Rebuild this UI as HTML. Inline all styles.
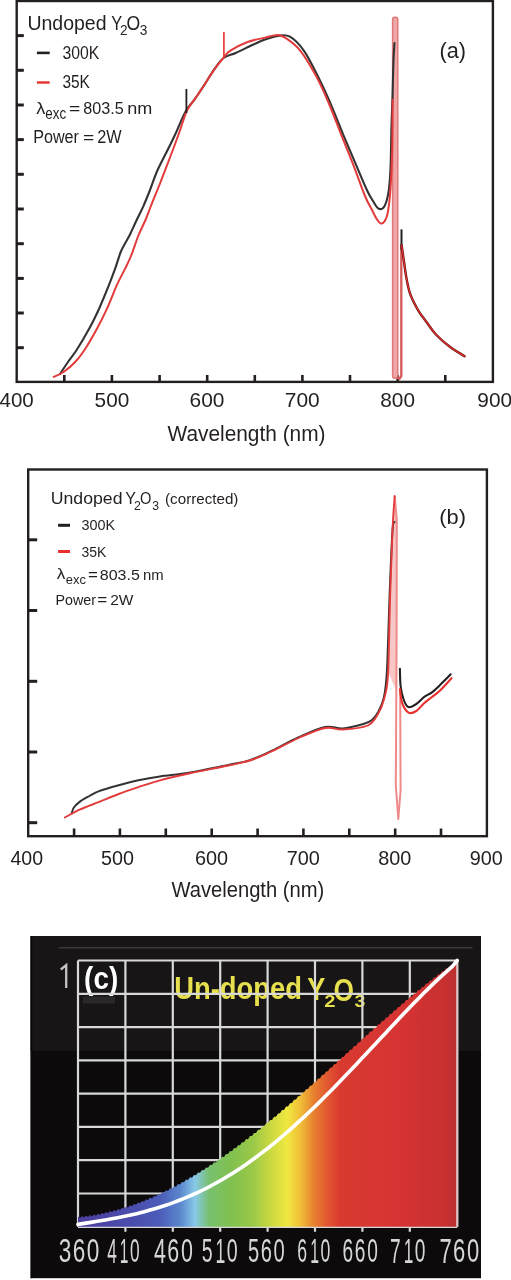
<!DOCTYPE html>
<html><head><meta charset="utf-8"><style>
html,body{margin:0;padding:0;background:#fff;width:511px;height:1280px;overflow:hidden;}
svg{display:block;font-family:"Liberation Sans", sans-serif;will-change:transform;}
</style></head><body>
<svg width="511" height="1280" viewBox="0 0 511 1280" font-family="Liberation Sans, sans-serif"><rect x="16.7" y="1.0" width="476.2" height="380.9" fill="none" stroke="#231f20" stroke-width="2.4"/>
<line x1="16.7" y1="35.6" x2="23.8" y2="35.6" stroke="#231f20" stroke-width="3"/>
<line x1="16.7" y1="70.3" x2="23.8" y2="70.3" stroke="#231f20" stroke-width="3"/>
<line x1="16.7" y1="105.0" x2="23.8" y2="105.0" stroke="#231f20" stroke-width="3"/>
<line x1="16.7" y1="139.6" x2="23.8" y2="139.6" stroke="#231f20" stroke-width="3"/>
<line x1="16.7" y1="174.3" x2="23.8" y2="174.3" stroke="#231f20" stroke-width="3"/>
<line x1="16.7" y1="209.0" x2="23.8" y2="209.0" stroke="#231f20" stroke-width="3"/>
<line x1="16.7" y1="243.7" x2="23.8" y2="243.7" stroke="#231f20" stroke-width="3"/>
<line x1="16.7" y1="278.4" x2="23.8" y2="278.4" stroke="#231f20" stroke-width="3"/>
<line x1="16.7" y1="313.0" x2="23.8" y2="313.0" stroke="#231f20" stroke-width="3"/>
<line x1="16.7" y1="347.7" x2="23.8" y2="347.7" stroke="#231f20" stroke-width="3"/>
<line x1="64.3" y1="381.9" x2="64.3" y2="375" stroke="#231f20" stroke-width="2.6"/>
<line x1="111.9" y1="381.9" x2="111.9" y2="375" stroke="#231f20" stroke-width="2.6"/>
<line x1="159.6" y1="381.9" x2="159.6" y2="375" stroke="#231f20" stroke-width="2.6"/>
<line x1="207.2" y1="381.9" x2="207.2" y2="375" stroke="#231f20" stroke-width="2.6"/>
<line x1="254.8" y1="381.9" x2="254.8" y2="375" stroke="#231f20" stroke-width="2.6"/>
<line x1="302.4" y1="381.9" x2="302.4" y2="375" stroke="#231f20" stroke-width="2.6"/>
<line x1="350.0" y1="381.9" x2="350.0" y2="375" stroke="#231f20" stroke-width="2.6"/>
<line x1="397.7" y1="381.9" x2="397.7" y2="375" stroke="#231f20" stroke-width="2.6"/>
<line x1="445.3" y1="381.9" x2="445.3" y2="375" stroke="#231f20" stroke-width="2.6"/>
<text x="-0.47" y="407.00" font-size="20.80" fill="#231f20" textLength="34.27" lengthAdjust="spacingAndGlyphs" >400</text>
<text x="94.61" y="407.00" font-size="20.80" fill="#231f20" textLength="34.64" lengthAdjust="spacingAndGlyphs" >500</text>
<text x="189.62" y="407.00" font-size="20.80" fill="#231f20" textLength="34.88" lengthAdjust="spacingAndGlyphs" >600</text>
<text x="284.85" y="407.00" font-size="20.80" fill="#231f20" textLength="34.89" lengthAdjust="spacingAndGlyphs" >700</text>
<text x="380.26" y="407.00" font-size="20.80" fill="#231f20" textLength="34.72" lengthAdjust="spacingAndGlyphs" >800</text>
<text x="477.32" y="407.00" font-size="20.80" fill="#231f20" textLength="34.79" lengthAdjust="spacingAndGlyphs" >900</text>
<text x="167.51" y="441.30" font-size="22.00" fill="#231f20" textLength="157.98" lengthAdjust="spacingAndGlyphs" >Wavelength (nm)</text>
<text x="439.46" y="58.30" font-size="22.00" fill="#231f20" textLength="26.49" lengthAdjust="spacingAndGlyphs" >(a)</text>
<line x1="36.9" y1="52.9" x2="49.7" y2="52.9" stroke="#231f20" stroke-width="2.6"/>
<line x1="36.9" y1="82.5" x2="49.7" y2="82.5" stroke="#e8312f" stroke-width="2.4"/>
<text x="27.40" y="30.20" font-size="20.30" fill="#231f20" textLength="79.16" lengthAdjust="spacingAndGlyphs" >Undoped</text>
<text x="111.24" y="30.20" font-size="20.30" fill="#231f20" textLength="10.92" lengthAdjust="spacingAndGlyphs" >Y</text>
<text x="119.92" y="34.70" font-size="14.30" fill="#231f20" textLength="7.57" lengthAdjust="spacingAndGlyphs" >2</text>
<text x="126.47" y="30.20" font-size="20.30" fill="#231f20" textLength="13.67" lengthAdjust="spacingAndGlyphs" >O</text>
<text x="139.78" y="34.70" font-size="14.30" fill="#231f20" textLength="7.62" lengthAdjust="spacingAndGlyphs" >3</text>
<text x="62.40" y="58.60" font-size="17.50" fill="#231f20" textLength="36.78" lengthAdjust="spacingAndGlyphs" >300K</text>
<text x="62.41" y="88.20" font-size="17.50" fill="#231f20" textLength="27.46" lengthAdjust="spacingAndGlyphs" >35K</text>
<text x="36.38" y="114.10" font-size="17.00" fill="#231f20" textLength="9.08" lengthAdjust="spacingAndGlyphs" >λ</text>
<text x="45.33" y="119.40" font-size="15.70" fill="#231f20" textLength="20.82" lengthAdjust="spacingAndGlyphs" >exc</text>
<text x="68.96" y="114.00" font-size="17.00" fill="#231f20" textLength="11.30" lengthAdjust="spacingAndGlyphs" >=</text>
<text x="83.20" y="113.80" font-size="16.90" fill="#231f20" textLength="40.48" lengthAdjust="spacingAndGlyphs" >803.5</text>
<text x="127.30" y="113.80" font-size="16.90" fill="#231f20" textLength="25.09" lengthAdjust="spacingAndGlyphs" >nm</text>
<text x="33.17" y="142.90" font-size="17.60" fill="#231f20" textLength="45.79" lengthAdjust="spacingAndGlyphs" >Power</text>
<text x="83.07" y="142.90" font-size="17.00" fill="#231f20" textLength="11.18" lengthAdjust="spacingAndGlyphs" >=</text>
<text x="97.18" y="142.90" font-size="17.60" fill="#231f20" textLength="24.37" lengthAdjust="spacingAndGlyphs" >2W</text>
<rect x="392.6" y="17.2" width="5.2" height="361" rx="2.2" fill="#f0a6a6" stroke="#e07a7a" stroke-width="1.5"/>
<path d="M60.0,374.0 C61.3,372.0 65.2,366.0 68.0,362.0 C70.8,358.0 73.0,355.6 76.6,350.0 C80.2,344.4 85.7,335.2 89.4,328.3 C93.2,321.4 95.8,315.9 99.1,308.7 C102.3,301.5 106.3,291.7 108.9,285.2 C111.5,278.7 112.8,275.1 114.8,269.6 C116.8,264.1 119.0,256.4 120.7,252.0 C122.4,247.7 123.5,246.4 125.0,243.5 C126.5,240.6 128.2,238.2 130.0,234.5 C131.8,230.8 133.9,225.9 136.1,221.2 C138.3,216.5 141.0,211.5 143.3,206.3 C145.6,201.1 147.6,196.1 150.0,190.0 C152.4,183.9 154.4,177.2 157.6,170.0 C160.8,162.8 166.3,152.8 169.4,146.5 C172.5,140.2 173.6,137.8 176.3,132.0 C179.0,126.2 182.5,116.9 185.6,111.4 C188.7,105.9 191.9,103.3 195.0,98.9 C198.1,94.5 201.5,89.2 204.4,84.8 C207.3,80.4 209.2,76.7 212.3,72.3 C215.4,67.9 219.3,61.4 223.2,58.2 C227.1,55.0 230.8,55.2 235.7,53.0 C240.6,50.8 248.0,47.0 252.9,44.7 C257.8,42.5 260.9,41.0 265.0,39.5 C269.1,38.0 273.5,36.4 277.6,35.9 C281.8,35.4 285.5,34.2 289.9,36.7 C294.3,39.2 299.3,44.2 304.0,50.8 C308.7,57.4 313.8,68.2 318.0,76.4 C322.2,84.6 324.9,90.4 329.1,100.2 C333.4,110.0 339.1,125.0 343.5,135.4 C347.9,145.8 351.3,153.7 355.2,162.8 C359.1,171.9 364.0,183.8 367.0,190.2 C370.0,196.6 371.1,197.9 373.0,201.0 C374.9,204.1 376.8,208.0 378.7,208.8 C380.6,209.6 383.0,208.7 384.6,205.9 C386.2,203.1 387.5,198.4 388.5,192.2 C389.5,186.0 390.0,179.1 390.5,168.7 C391.0,158.3 391.1,141.0 391.4,129.6 C391.7,118.1 392.0,111.6 392.4,100.0 C392.8,88.4 393.1,69.5 393.5,60.0 C393.9,50.5 394.3,45.8 394.5,43.0" fill="none" stroke="#333333" stroke-width="2.1" stroke-linejoin="round" stroke-linecap="round"/>
<path d="M53.7,376.9 C55.3,376.1 59.9,374.5 63.5,372.0 C67.1,369.5 71.7,365.7 75.2,362.0 C78.7,358.3 80.8,355.6 84.5,350.0 C88.2,344.4 93.5,335.2 97.2,328.3 C101.0,321.4 103.7,315.9 107.0,308.7 C110.3,301.5 113.9,291.7 116.8,285.2 C119.7,278.7 122.2,274.5 124.6,269.6 C127.0,264.7 128.7,261.7 131.0,256.0 C133.3,250.3 136.0,241.5 138.4,235.5 C140.8,229.5 143.4,224.9 145.5,220.0 C147.6,215.1 148.5,212.2 150.9,206.0 C153.3,199.8 157.1,190.8 160.2,183.0 C163.3,175.2 166.2,167.3 169.4,159.0 C172.6,150.7 176.2,141.1 179.1,133.0 C182.0,124.9 184.3,116.2 187.0,110.5 C189.7,104.8 192.1,103.2 195.0,98.9 C197.9,94.6 201.5,89.2 204.4,84.8 C207.3,80.4 209.2,76.7 212.3,72.3 C215.4,67.9 220.2,61.8 223.2,58.2 C226.1,54.6 225.9,53.5 230.0,50.8 C234.1,48.1 241.7,44.2 247.6,42.0 C253.5,39.8 260.2,38.8 265.2,37.6 C270.2,36.4 274.1,34.9 277.6,35.0 C281.1,35.1 282.6,35.9 286.4,38.5 C290.2,41.1 295.4,44.5 300.4,50.8 C305.4,57.1 311.5,67.5 316.3,76.4 C321.1,85.3 324.9,94.2 329.1,104.0 C333.3,113.8 337.5,125.3 341.5,135.4 C345.5,145.5 349.4,154.7 353.3,164.8 C357.2,174.9 361.9,188.5 365.0,196.0 C368.1,203.5 370.0,206.1 372.0,210.0 C374.0,213.9 375.5,217.2 377.0,219.5 C378.5,221.8 379.7,223.2 381.0,223.5 C382.3,223.8 383.7,222.8 384.8,221.0 C385.9,219.2 386.9,217.9 387.8,212.5 C388.8,207.1 389.8,198.9 390.5,188.3 C391.2,177.7 391.8,163.7 392.2,149.0 C392.6,134.3 392.5,108.2 392.6,100.0" fill="none" stroke="#e33b3b" stroke-width="2.0" stroke-linejoin="round" stroke-linecap="round"/>
<line x1="186.4" y1="89" x2="186.4" y2="113" stroke="#231f20" stroke-width="1.8"/>
<line x1="223.9" y1="32" x2="223.9" y2="57" stroke="#e8312f" stroke-width="1.6"/>
<path d="M397,377 L399.3,379 L401.3,376 L401.3,245" fill="none" stroke="#d65a5a" stroke-width="2.3" stroke-linejoin="round"/>
<line x1="401.5" y1="229.4" x2="401.5" y2="250" stroke="#231f20" stroke-width="2"/>
<path d="M401.6,245.0 C401.9,247.3 402.8,253.4 403.6,259.1 C404.5,264.9 405.5,273.5 406.7,279.5 C407.9,285.5 408.6,289.9 410.6,295.1 C412.6,300.3 415.9,306.4 418.5,310.8 C421.1,315.2 423.4,317.8 426.3,321.7 C429.2,325.6 431.8,330.0 435.7,334.2 C439.6,338.4 445.0,343.1 449.8,346.8 C454.6,350.5 462.1,354.6 464.6,356.2" fill="none" stroke="#5a1010" stroke-width="2.4" stroke-linecap="round"/>
<path d="M401.6,245.0 C401.9,247.3 402.8,253.4 403.6,259.1 C404.5,264.9 405.5,273.5 406.7,279.5 C407.9,285.5 408.6,289.9 410.6,295.1 C412.6,300.3 415.9,306.4 418.5,310.8 C421.1,315.2 423.4,317.8 426.3,321.7 C429.2,325.6 431.8,330.0 435.7,334.2 C439.6,338.4 445.0,343.1 449.8,346.8 C454.6,350.5 462.1,354.6 464.6,356.2" fill="none" stroke="#e8312f" stroke-width="1.2" stroke-linecap="round"/>
<rect x="28.2" y="469.5" width="458.7" height="366.70000000000005" fill="none" stroke="#231f20" stroke-width="2.4"/>
<line x1="28.2" y1="539.8" x2="37.2" y2="539.8" stroke="#231f20" stroke-width="3"/>
<line x1="28.2" y1="610.5" x2="37.2" y2="610.5" stroke="#231f20" stroke-width="3"/>
<line x1="28.2" y1="681.3" x2="37.2" y2="681.3" stroke="#231f20" stroke-width="3"/>
<line x1="28.2" y1="752.0" x2="37.2" y2="752.0" stroke="#231f20" stroke-width="3"/>
<line x1="28.2" y1="822.7" x2="37.2" y2="822.7" stroke="#231f20" stroke-width="3"/>
<line x1="74.1" y1="836.2" x2="74.1" y2="828.5" stroke="#231f20" stroke-width="2.6"/>
<line x1="119.9" y1="836.2" x2="119.9" y2="828.5" stroke="#231f20" stroke-width="2.6"/>
<line x1="165.8" y1="836.2" x2="165.8" y2="828.5" stroke="#231f20" stroke-width="2.6"/>
<line x1="211.7" y1="836.2" x2="211.7" y2="828.5" stroke="#231f20" stroke-width="2.6"/>
<line x1="257.6" y1="836.2" x2="257.6" y2="828.5" stroke="#231f20" stroke-width="2.6"/>
<line x1="303.4" y1="836.2" x2="303.4" y2="828.5" stroke="#231f20" stroke-width="2.6"/>
<line x1="349.3" y1="836.2" x2="349.3" y2="828.5" stroke="#231f20" stroke-width="2.6"/>
<line x1="395.2" y1="836.2" x2="395.2" y2="828.5" stroke="#231f20" stroke-width="2.6"/>
<line x1="441.0" y1="836.2" x2="441.0" y2="828.5" stroke="#231f20" stroke-width="2.6"/>
<text x="10.45" y="865.40" font-size="19.30" fill="#231f20" textLength="32.61" lengthAdjust="spacingAndGlyphs" >400</text>
<text x="100.91" y="865.40" font-size="19.30" fill="#231f20" textLength="32.96" lengthAdjust="spacingAndGlyphs" >500</text>
<text x="194.97" y="865.40" font-size="19.30" fill="#231f20" textLength="33.19" lengthAdjust="spacingAndGlyphs" >600</text>
<text x="286.70" y="865.40" font-size="19.30" fill="#231f20" textLength="33.20" lengthAdjust="spacingAndGlyphs" >700</text>
<text x="378.24" y="865.40" font-size="19.30" fill="#231f20" textLength="33.03" lengthAdjust="spacingAndGlyphs" >800</text>
<text x="469.67" y="865.40" font-size="19.30" fill="#231f20" textLength="33.11" lengthAdjust="spacingAndGlyphs" >900</text>
<text x="171.41" y="897.20" font-size="21.50" fill="#231f20" textLength="152.83" lengthAdjust="spacingAndGlyphs" >Wavelength (nm)</text>
<text x="439.34" y="524.00" font-size="21.00" fill="#231f20" textLength="26.71" lengthAdjust="spacingAndGlyphs" >(b)</text>
<text x="50.74" y="504.20" font-size="17.00" fill="#231f20" textLength="71.80" lengthAdjust="spacingAndGlyphs" >Undoped</text>
<text x="125.15" y="504.20" font-size="17.00" fill="#231f20" textLength="10.71" lengthAdjust="spacingAndGlyphs" >Y</text>
<text x="133.98" y="509.70" font-size="12.50" fill="#231f20" textLength="6.84" lengthAdjust="spacingAndGlyphs" >2</text>
<text x="140.11" y="504.20" font-size="17.00" fill="#231f20" textLength="11.39" lengthAdjust="spacingAndGlyphs" >O</text>
<text x="152.13" y="509.70" font-size="12.50" fill="#231f20" textLength="6.80" lengthAdjust="spacingAndGlyphs" >3</text>
<text x="165.06" y="503.80" font-size="14.50" fill="#231f20" textLength="73.38" lengthAdjust="spacingAndGlyphs" >(corrected)</text>
<line x1="58.1" y1="525.3" x2="70" y2="525.3" stroke="#231f20" stroke-width="3"/>
<line x1="58.1" y1="551.5" x2="70" y2="551.5" stroke="#e8312f" stroke-width="3"/>
<text x="81.55" y="530.30" font-size="14.80" fill="#231f20" textLength="33.61" lengthAdjust="spacingAndGlyphs" >300K</text>
<text x="81.57" y="556.50" font-size="14.80" fill="#231f20" textLength="24.89" lengthAdjust="spacingAndGlyphs" >35K</text>
<text x="56.88" y="579.30" font-size="15.00" fill="#231f20" textLength="8.57" lengthAdjust="spacingAndGlyphs" >λ</text>
<text x="65.85" y="583.50" font-size="13.50" fill="#231f20" textLength="20.19" lengthAdjust="spacingAndGlyphs" >exc</text>
<text x="87.98" y="580.00" font-size="15.00" fill="#231f20" textLength="9.86" lengthAdjust="spacingAndGlyphs" >=</text>
<text x="99.80" y="580.00" font-size="14.80" fill="#231f20" textLength="40.07" lengthAdjust="spacingAndGlyphs" >803.5</text>
<text x="143.01" y="580.00" font-size="14.80" fill="#231f20" textLength="20.67" lengthAdjust="spacingAndGlyphs" >nm</text>
<text x="55.42" y="604.60" font-size="15.50" fill="#231f20" textLength="40.61" lengthAdjust="spacingAndGlyphs" >Power</text>
<text x="97.27" y="604.60" font-size="15.00" fill="#231f20" textLength="9.98" lengthAdjust="spacingAndGlyphs" >=</text>
<text x="110.22" y="604.60" font-size="15.50" fill="#231f20" textLength="23.23" lengthAdjust="spacingAndGlyphs" >2W</text>
<path d="M387.5,671 L389.7,592.5 L392.5,530 L394.7,496 L396.8,520 L396.5,640 L396.2,690 Z" fill="#f7c6c6"/>
<path d="M394.7,496 L396.8,520 L396.6,640 L395.8,785 L398.3,819 L400.6,790 L400.2,690" fill="none" stroke="#ee8a8a" stroke-width="2" stroke-linejoin="round"/>
<path d="M71.7,813.6 C72.0,812.6 72.4,809.7 73.7,807.7 C75.0,805.8 77.0,803.9 79.6,801.9 C82.2,799.9 86.2,797.8 89.4,796.0 C92.7,794.2 94.2,792.9 99.1,791.1 C104.0,789.3 112.2,787.0 118.7,785.2 C125.2,783.4 131.4,781.8 138.3,780.3 C145.2,778.8 151.5,777.6 160.0,776.4 C168.5,775.1 177.7,774.7 189.1,772.8 C200.5,770.9 218.2,767.1 228.3,765.0 C238.5,762.9 243.2,762.3 250.0,760.1 C256.9,757.9 261.3,755.7 269.4,751.9 C277.5,748.1 289.4,741.4 298.7,737.2 C308.0,733.1 317.8,728.5 325.1,727.0 C332.4,725.5 336.3,728.9 342.7,728.4 C349.1,727.9 358.4,725.4 363.3,724.0 C368.2,722.6 369.6,722.0 372.0,720.0 C374.4,718.0 376.0,716.0 378.0,712.3 C380.0,708.6 382.3,704.5 383.8,697.6 C385.3,690.8 385.9,688.7 386.9,671.2 C387.9,653.7 388.8,615.9 389.7,592.5 C390.6,569.1 391.7,542.4 392.5,530.6 C393.3,518.9 394.2,523.4 394.5,522.0" fill="none" stroke="#333333" stroke-width="2.0" stroke-linejoin="round" stroke-linecap="round"/>
<path d="M64.9,817.5 C67.4,816.2 73.9,812.3 79.6,809.7 C85.3,807.1 92.6,804.5 99.1,801.9 C105.6,799.3 112.2,796.5 118.7,794.0 C125.2,791.5 131.4,789.5 138.3,787.2 C145.2,784.9 151.5,782.6 160.0,780.3 C168.5,778.0 177.7,776.0 189.1,773.5 C200.5,771.0 218.2,767.7 228.3,765.5 C238.5,763.3 243.2,762.7 250.0,760.5 C256.9,758.3 261.3,756.2 269.4,752.5 C277.5,748.8 289.4,742.1 298.7,738.0 C308.0,733.9 317.8,729.4 325.1,728.0 C332.4,726.6 335.6,729.9 342.7,729.5 C349.8,729.1 361.8,728.1 367.7,725.5 C373.6,722.9 375.3,718.2 378.0,714.0 C380.7,709.8 382.1,706.5 383.8,700.0 C385.5,693.5 387.0,691.7 388.0,675.0 C389.0,658.3 389.2,624.2 390.0,600.0 C390.8,575.8 391.7,547.3 392.5,530.0 C393.3,512.7 394.3,501.7 394.7,496.0" fill="none" stroke="#e33b3b" stroke-width="1.9" stroke-linejoin="round" stroke-linecap="round"/>
<path d="M399.9,668.8 C400.0,671.7 400.0,680.8 400.6,686.0 C401.2,691.2 402.5,696.5 403.8,700.0 C405.1,703.5 406.4,706.4 408.5,707.1 C410.6,707.8 413.7,705.7 416.3,704.0 C418.9,702.3 421.5,699.0 424.1,697.0 C426.7,695.0 429.4,694.3 432.0,692.3 C434.6,690.3 436.7,688.2 439.8,685.2 C442.9,682.2 448.9,676.1 450.7,674.3" fill="none" stroke="#231f20" stroke-width="2.1" stroke-linejoin="round" stroke-linecap="round"/>
<path d="M399.9,689.0 C400.3,691.4 400.8,699.3 402.2,703.2 C403.6,707.1 406.1,711.3 408.5,712.6 C410.9,713.9 413.7,712.6 416.3,711.0 C418.9,709.4 421.5,705.5 424.1,703.2 C426.7,700.9 429.4,699.1 432.0,697.0 C434.6,694.9 436.6,693.8 439.8,690.7 C443.1,687.6 449.6,680.3 451.5,678.2" fill="none" stroke="#e8312f" stroke-width="2.1" stroke-linejoin="round" stroke-linecap="round"/>
<rect x="30.6" y="936.0" width="450.4" height="342.20000000000005" fill="#0c0a0a"/>
<rect x="30.6" y="936.0" width="450.4" height="114.90000000000009" fill="#171515"/>
<line x1="59" y1="947.7" x2="472.5" y2="947.7" stroke="#3a3838" stroke-width="1.5"/>
<rect x="30.6" y="936.0" width="1.6" height="342.20000000000005" fill="#080808"/>
<rect x="83" y="996.5" width="32" height="7" fill="#2a2828"/>
<text transform="translate(84.11,989.24) scale(1,1.197)" x="0" y="0" font-size="26.00" fill="#ffffff" textLength="34.08" lengthAdjust="spacingAndGlyphs" font-weight="bold">(c)</text>
<path d="M60.8,969.5 L66.2,965.2 L66.2,988" fill="none" stroke="#c4c4c4" stroke-width="2.3" stroke-linejoin="miter"/>
<text transform="translate(174.16,999.19) scale(1,1.188)" x="0" y="0" font-size="26.00" fill="#e6df4e" textLength="127.75" lengthAdjust="spacingAndGlyphs" font-weight="bold">Un-doped</text>
<text transform="translate(307.24,999.80) scale(1,1.202)" x="0" y="0" font-size="26.00" fill="#e6df4e" textLength="18.10" lengthAdjust="spacingAndGlyphs" font-weight="bold">Y</text>
<text transform="translate(324.20,1007.40) scale(1,1.065)" x="0" y="0" font-size="16.00" fill="#e6df4e" textLength="11.21" lengthAdjust="spacingAndGlyphs" font-weight="bold">2</text>
<text transform="translate(333.52,1000.59) scale(1,1.228)" x="0" y="0" font-size="26.00" fill="#e6df4e" textLength="20.49" lengthAdjust="spacingAndGlyphs" font-weight="bold">O</text>
<text transform="translate(354.55,1007.21) scale(1,1.048)" x="0" y="0" font-size="16.00" fill="#e6df4e" textLength="10.85" lengthAdjust="spacingAndGlyphs" font-weight="bold">3</text>
<line x1="78.0" y1="960.5" x2="78.0" y2="1226.8" stroke="#d8d8d8" stroke-width="2.2"/>
<line x1="125.4" y1="960.5" x2="125.4" y2="1231.8" stroke="#d8d8d8" stroke-width="2.2"/>
<line x1="172.8" y1="960.5" x2="172.8" y2="1231.8" stroke="#d8d8d8" stroke-width="2.2"/>
<line x1="220.2" y1="960.5" x2="220.2" y2="1231.8" stroke="#d8d8d8" stroke-width="2.2"/>
<line x1="267.6" y1="960.5" x2="267.6" y2="1231.8" stroke="#d8d8d8" stroke-width="2.2"/>
<line x1="315.0" y1="960.5" x2="315.0" y2="1231.8" stroke="#d8d8d8" stroke-width="2.2"/>
<line x1="362.4" y1="960.5" x2="362.4" y2="1231.8" stroke="#d8d8d8" stroke-width="2.2"/>
<line x1="409.8" y1="960.5" x2="409.8" y2="1231.8" stroke="#d8d8d8" stroke-width="2.2"/>
<line x1="457.2" y1="960.5" x2="457.2" y2="1226.8" stroke="#d8d8d8" stroke-width="2.2"/>
<line x1="78.0" y1="960.5" x2="457.2" y2="960.5" stroke="#d8d8d8" stroke-width="2.2"/>
<line x1="78.0" y1="993.8" x2="457.2" y2="993.8" stroke="#d8d8d8" stroke-width="2.2"/>
<line x1="78.0" y1="1027.1" x2="457.2" y2="1027.1" stroke="#d8d8d8" stroke-width="2.2"/>
<line x1="78.0" y1="1060.4" x2="457.2" y2="1060.4" stroke="#d8d8d8" stroke-width="2.2"/>
<line x1="78.0" y1="1093.7" x2="457.2" y2="1093.7" stroke="#d8d8d8" stroke-width="2.2"/>
<line x1="78.0" y1="1126.9" x2="457.2" y2="1126.9" stroke="#d8d8d8" stroke-width="2.2"/>
<line x1="78.0" y1="1160.2" x2="457.2" y2="1160.2" stroke="#d8d8d8" stroke-width="2.2"/>
<line x1="78.0" y1="1193.5" x2="457.2" y2="1193.5" stroke="#d8d8d8" stroke-width="2.2"/>
<line x1="78.0" y1="1226.8" x2="457.2" y2="1226.8" stroke="#d8d8d8" stroke-width="2.2"/>
<defs><linearGradient id="sp" x1="78" y1="0" x2="457.2" y2="0" gradientUnits="userSpaceOnUse"><stop offset="0.0000" stop-color="#4c3e9c"/><stop offset="0.1371" stop-color="#4a4cac"/><stop offset="0.2162" stop-color="#4c5cb8"/><stop offset="0.2690" stop-color="#5a86cc"/><stop offset="0.3085" stop-color="#88c8e8"/><stop offset="0.3455" stop-color="#78c070"/><stop offset="0.4008" stop-color="#80c050"/><stop offset="0.4589" stop-color="#98c848"/><stop offset="0.5063" stop-color="#c8d840"/><stop offset="0.5512" stop-color="#f0e840"/><stop offset="0.5854" stop-color="#f0c038"/><stop offset="0.6224" stop-color="#e88030"/><stop offset="0.6646" stop-color="#e05030"/><stop offset="0.6909" stop-color="#d83a30"/><stop offset="0.8492" stop-color="#d63333"/><stop offset="0.9678" stop-color="#c83030"/><stop offset="1.0000" stop-color="#b83030"/></linearGradient></defs>
<path d="M78.0,1216.5 L80.0,1217.9 L82.0,1216.1 L84.0,1217.5 L86.0,1215.6 L88.0,1217.0 L90.0,1215.1 L92.0,1216.4 L94.0,1214.4 L96.0,1215.7 L98.0,1213.7 L100.0,1214.9 L102.0,1212.9 L104.0,1214.1 L106.0,1212.1 L108.0,1213.2 L110.0,1211.1 L112.0,1212.2 L114.0,1210.1 L116.0,1211.2 L118.0,1209.0 L120.0,1210.0 L122.0,1207.8 L124.0,1208.8 L126.0,1206.6 L128.0,1207.5 L130.0,1205.3 L132.0,1206.2 L134.0,1203.9 L136.0,1204.8 L138.0,1202.4 L140.0,1203.3 L142.0,1200.9 L144.0,1201.7 L146.0,1199.3 L148.0,1200.1 L150.0,1197.6 L152.0,1198.4 L154.0,1195.9 L156.0,1196.6 L158.0,1194.1 L160.0,1194.8 L162.0,1192.2 L164.0,1192.8 L166.0,1190.3 L168.0,1190.9 L170.0,1188.3 L172.0,1188.8 L174.0,1186.2 L176.0,1186.7 L178.0,1184.1 L180.0,1184.6 L182.0,1181.9 L184.0,1182.3 L186.0,1179.6 L188.0,1180.1 L190.0,1177.3 L192.0,1177.7 L194.0,1174.9 L196.0,1175.3 L198.0,1172.5 L200.0,1172.8 L202.0,1170.0 L204.0,1170.3 L206.0,1167.4 L208.0,1167.7 L210.0,1164.8 L212.0,1165.1 L214.0,1162.2 L216.0,1162.4 L218.0,1159.5 L220.0,1159.7 L222.0,1156.7 L224.0,1156.9 L226.0,1153.9 L228.0,1154.1 L230.0,1151.0 L232.0,1151.2 L234.0,1148.1 L236.0,1148.3 L238.0,1145.2 L240.0,1145.3 L242.0,1142.2 L244.0,1142.3 L246.0,1139.1 L248.0,1139.2 L250.0,1136.0 L252.0,1136.1 L254.0,1132.9 L256.0,1132.9 L258.0,1129.8 L260.0,1129.8 L262.0,1126.6 L264.0,1126.5 L266.0,1123.3 L268.0,1123.3 L270.0,1120.0 L272.0,1120.0 L274.0,1116.7 L276.0,1116.7 L278.0,1113.4 L280.0,1113.3 L282.0,1110.0 L284.0,1109.9 L286.0,1106.6 L288.0,1106.5 L290.0,1103.2 L292.0,1103.1 L294.0,1099.7 L296.0,1099.6 L298.0,1096.3 L300.0,1096.1 L302.0,1092.8 L304.0,1092.6 L306.0,1089.2 L308.0,1089.1 L310.0,1085.7 L312.0,1085.5 L314.0,1082.2 L316.0,1082.0 L318.0,1078.6 L320.0,1078.4 L322.0,1075.0 L324.0,1074.8 L326.0,1071.4 L328.0,1071.2 L330.0,1067.8 L332.0,1067.6 L334.0,1064.2 L336.0,1064.0 L338.0,1060.6 L340.0,1060.4 L342.0,1056.9 L344.0,1056.7 L346.0,1053.3 L348.0,1053.1 L350.0,1049.7 L352.0,1049.5 L354.0,1046.1 L356.0,1045.9 L358.0,1042.5 L360.0,1042.3 L362.0,1038.8 L364.0,1038.6 L366.0,1035.2 L368.0,1035.0 L370.0,1031.6 L372.0,1031.5 L374.0,1028.1 L376.0,1027.9 L378.0,1024.5 L380.0,1024.3 L382.0,1020.9 L384.0,1020.8 L386.0,1017.4 L388.0,1017.3 L390.0,1013.9 L392.0,1013.8 L394.0,1010.4 L396.0,1010.3 L398.0,1007.0 L400.0,1006.8 L402.0,1003.5 L404.0,1003.4 L406.0,1000.1 L408.0,1000.0 L410.0,996.8 L412.0,996.7 L414.0,993.4 L416.0,993.4 L418.0,990.1 L420.0,990.1 L422.0,986.9 L424.0,986.8 L426.0,983.6 L428.0,983.6 L430.0,980.5 L432.0,980.5 L434.0,977.3 L436.0,977.4 L438.0,974.3 L440.0,974.4 L442.0,971.2 L444.0,971.4 L446.0,968.3 L448.0,968.4 L450.0,965.4 L452.0,965.5 L454.0,962.5 L456.0,962.7 L457.2,961.0 L457.2,1226.8 L78,1226.8 Z" fill="url(#sp)"/>
<line x1="457.2" y1="960.5" x2="457.2" y2="1226.8" stroke="#e0c8c8" stroke-width="2"/>
<path d="M78.0,1224.4 L82.8,1223.6 L87.6,1222.9 L92.4,1222.1 L97.2,1221.3 L102.0,1220.5 L106.8,1219.7 L111.6,1218.8 L116.4,1217.9 L121.2,1217.0 L126.0,1216.0 L130.8,1215.0 L135.6,1213.9 L140.4,1212.7 L145.2,1211.4 L150.0,1210.1 L154.8,1208.7 L159.6,1207.3 L164.4,1205.7 L169.2,1204.1 L174.0,1202.4 L178.8,1200.5 L183.6,1198.6 L188.4,1196.6 L193.2,1194.5 L198.0,1192.3 L202.8,1190.0 L207.6,1187.6 L212.4,1185.0 L217.2,1182.4 L222.0,1179.7 L226.8,1176.8 L231.6,1173.9 L236.4,1170.8 L241.2,1167.7 L246.0,1164.4 L250.8,1161.0 L255.6,1157.5 L260.4,1153.9 L265.2,1150.3 L270.0,1146.5 L274.8,1142.6 L279.6,1138.6 L284.4,1134.5 L289.2,1130.3 L294.0,1126.1 L298.8,1121.7 L303.6,1117.3 L308.4,1112.8 L313.2,1108.2 L318.0,1103.6 L322.8,1098.8 L327.6,1094.0 L332.4,1089.2 L337.2,1084.3 L342.0,1079.3 L346.8,1074.3 L351.6,1069.3 L356.4,1064.2 L361.2,1059.1 L366.0,1054.0 L370.8,1048.8 L375.6,1043.7 L380.4,1038.5 L385.2,1033.4 L390.0,1028.3 L394.8,1023.2 L399.6,1018.1 L404.4,1013.0 L409.2,1008.0 L414.0,1003.1 L418.8,998.2 L423.6,993.3 L428.4,988.6 L433.2,983.9 L438.0,979.4 L442.8,974.9 L447.6,970.6 L452.4,966.4 L457.2,960.5" fill="none" stroke="#ffffff" stroke-width="3.6" stroke-linecap="round" stroke-linejoin="round"/>
<text transform="translate(58.78,1262.17) scale(1,2.241)" x="0" y="0" font-size="15.00" fill="#d6d6d6" textLength="12.57" lengthAdjust="spacingAndGlyphs">3</text>
<text transform="translate(72.64,1262.17) scale(1,2.241)" x="0" y="0" font-size="15.00" fill="#d6d6d6" textLength="12.57" lengthAdjust="spacingAndGlyphs">6</text>
<text transform="translate(86.72,1262.17) scale(1,2.241)" x="0" y="0" font-size="15.00" fill="#d6d6d6" textLength="12.57" lengthAdjust="spacingAndGlyphs">0</text>
<text transform="translate(107.18,1262.50) scale(1,2.306)" x="0" y="0" font-size="15.00" fill="#d6d6d6" textLength="9.62" lengthAdjust="spacingAndGlyphs">4</text>
<text transform="translate(119.86,1262.50) scale(1,2.306)" x="0" y="0" font-size="15.00" fill="#d6d6d6" textLength="8.66" lengthAdjust="spacingAndGlyphs">1</text>
<text transform="translate(130.06,1262.17) scale(1,2.241)" x="0" y="0" font-size="15.00" fill="#d6d6d6" textLength="9.62" lengthAdjust="spacingAndGlyphs">0</text>
<text transform="translate(154.03,1262.50) scale(1,2.306)" x="0" y="0" font-size="15.00" fill="#d6d6d6" textLength="11.94" lengthAdjust="spacingAndGlyphs">4</text>
<text transform="translate(167.35,1262.17) scale(1,2.241)" x="0" y="0" font-size="15.00" fill="#d6d6d6" textLength="11.94" lengthAdjust="spacingAndGlyphs">6</text>
<text transform="translate(180.89,1262.17) scale(1,2.241)" x="0" y="0" font-size="15.00" fill="#d6d6d6" textLength="11.94" lengthAdjust="spacingAndGlyphs">0</text>
<text transform="translate(201.75,1262.17) scale(1,2.274)" x="0" y="0" font-size="15.00" fill="#d6d6d6" textLength="10.90" lengthAdjust="spacingAndGlyphs">5</text>
<text transform="translate(215.61,1262.50) scale(1,2.306)" x="0" y="0" font-size="15.00" fill="#d6d6d6" textLength="9.81" lengthAdjust="spacingAndGlyphs">1</text>
<text transform="translate(226.87,1262.17) scale(1,2.241)" x="0" y="0" font-size="15.00" fill="#d6d6d6" textLength="10.90" lengthAdjust="spacingAndGlyphs">0</text>
<text transform="translate(247.93,1262.17) scale(1,2.274)" x="0" y="0" font-size="15.00" fill="#d6d6d6" textLength="11.21" lengthAdjust="spacingAndGlyphs">5</text>
<text transform="translate(260.68,1262.17) scale(1,2.241)" x="0" y="0" font-size="15.00" fill="#d6d6d6" textLength="11.21" lengthAdjust="spacingAndGlyphs">6</text>
<text transform="translate(273.58,1262.17) scale(1,2.241)" x="0" y="0" font-size="15.00" fill="#d6d6d6" textLength="11.21" lengthAdjust="spacingAndGlyphs">0</text>
<text transform="translate(297.25,1262.17) scale(1,2.241)" x="0" y="0" font-size="15.00" fill="#d6d6d6" textLength="9.81" lengthAdjust="spacingAndGlyphs">6</text>
<text transform="translate(310.22,1262.50) scale(1,2.306)" x="0" y="0" font-size="15.00" fill="#d6d6d6" textLength="8.83" lengthAdjust="spacingAndGlyphs">1</text>
<text transform="translate(320.58,1262.17) scale(1,2.241)" x="0" y="0" font-size="15.00" fill="#d6d6d6" textLength="9.81" lengthAdjust="spacingAndGlyphs">0</text>
<text transform="translate(342.49,1262.17) scale(1,2.241)" x="0" y="0" font-size="15.00" fill="#d6d6d6" textLength="10.66" lengthAdjust="spacingAndGlyphs">6</text>
<text transform="translate(354.85,1262.17) scale(1,2.241)" x="0" y="0" font-size="15.00" fill="#d6d6d6" textLength="10.66" lengthAdjust="spacingAndGlyphs">6</text>
<text transform="translate(367.28,1262.17) scale(1,2.241)" x="0" y="0" font-size="15.00" fill="#d6d6d6" textLength="10.66" lengthAdjust="spacingAndGlyphs">0</text>
<text transform="translate(390.04,1262.50) scale(1,2.306)" x="0" y="0" font-size="15.00" fill="#d6d6d6" textLength="10.66" lengthAdjust="spacingAndGlyphs">7</text>
<text transform="translate(403.71,1262.50) scale(1,2.306)" x="0" y="0" font-size="15.00" fill="#d6d6d6" textLength="9.60" lengthAdjust="spacingAndGlyphs">1</text>
<text transform="translate(414.78,1262.17) scale(1,2.241)" x="0" y="0" font-size="15.00" fill="#d6d6d6" textLength="10.66" lengthAdjust="spacingAndGlyphs">0</text>
<text transform="translate(439.43,1262.50) scale(1,2.306)" x="0" y="0" font-size="15.00" fill="#d6d6d6" textLength="12.25" lengthAdjust="spacingAndGlyphs">7</text>
<text transform="translate(453.10,1262.17) scale(1,2.241)" x="0" y="0" font-size="15.00" fill="#d6d6d6" textLength="12.25" lengthAdjust="spacingAndGlyphs">6</text>
<text transform="translate(466.91,1262.17) scale(1,2.241)" x="0" y="0" font-size="15.00" fill="#d6d6d6" textLength="12.25" lengthAdjust="spacingAndGlyphs">0</text></svg>
</body></html>
